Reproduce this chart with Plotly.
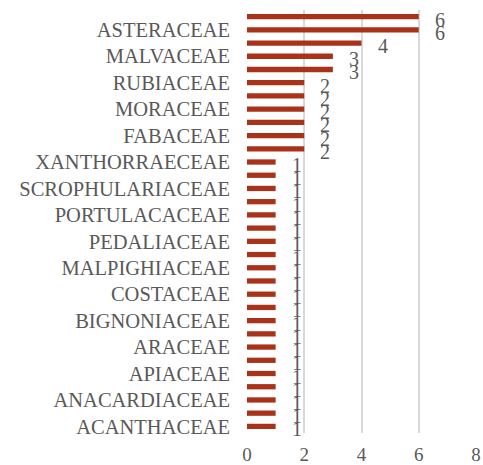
import plotly.graph_objects as go

# Plant families (bottom to top) and number of species recorded for each
families = [
    "ACANTHACEAE", "AMARANTHACEAE", "ANACARDIACEAE", "ANNONACEAE", "APIACEAE",
    "APOCYNACEAE", "ARACEAE", "ARECACEAE", "BIGNONIACEAE", "CARICACEAE",
    "COSTACEAE", "CUCURBITACEAE", "MALPIGHIACEAE", "MELIACEAE", "PEDALIACEAE",
    "PHYLLANTHACEAE", "PORTULACACEAE", "RUTACEAE", "SCROPHULARIACEAE",
    "VERBENACEAE", "XANTHORRAECEAE",
    "CELASTRACEAE", "FABACEAE", "LAURACEAE", "MORACEAE", "MYRTACEAE", "RUBIACEAE",
    "LAMIACEAE", "MALVACEAE",
    "EUPHORBIACEAE",
    "ASTERACEAE", "SOLANACEAE",
]
counts = [1] * 21 + [2] * 6 + [3, 3] + [4] + [6, 6]

# Only every second family name is shown on the axis
shown_labels = families[::2]

x_ticks = [0, 2, 4, 6, 8]

bar_color = "#a9321a"
text_color = "#595959"
font_family = "Liberation Serif, DejaVu Serif, serif"

fig = go.Figure(
    go.Bar(
        x=counts,
        y=families,
        orientation="h",
        marker=dict(color=bar_color, line=dict(width=0)),
        width=0.4,
        hoverinfo="skip",
    )
)

# Value labels placed just beyond the end of each bar
for fam, val in zip(families, counts):
    fig.add_annotation(
        x=val, y=fam, text=str(val), showarrow=False,
        xanchor="center", yanchor="middle", xshift=21, yshift=-3,
        font=dict(family=font_family, size=20, color=text_color),
    )

fig.update_layout(
    width=483, height=465,
    margin=dict(l=247, r=7, t=10, b=32),
    plot_bgcolor="white", paper_bgcolor="white",
    showlegend=False,
    bargap=0.6,
)

fig.update_xaxes(
    range=[0, 8],
    tickvals=x_ticks,
    ticktext=[str(t) for t in x_ticks],
    showgrid=True, gridcolor="#d9d9d9", gridwidth=1.5,
    zeroline=False, showline=False,
    ticks="", ticklabelstandoff=8, automargin=False,
    tickfont=dict(family=font_family, size=19, color=text_color),
)

fig.update_yaxes(
    categoryorder="array", categoryarray=families,
    range=[-0.5, len(families) - 0.5],
    tickmode="array", tickvals=shown_labels, ticktext=shown_labels,
    showgrid=False, zeroline=False, showline=False,
    ticks="", ticklabelstandoff=16, automargin=False,
    tickfont=dict(family=font_family, size=20.5, color=text_color),
)

fig.write_html("out.html")
